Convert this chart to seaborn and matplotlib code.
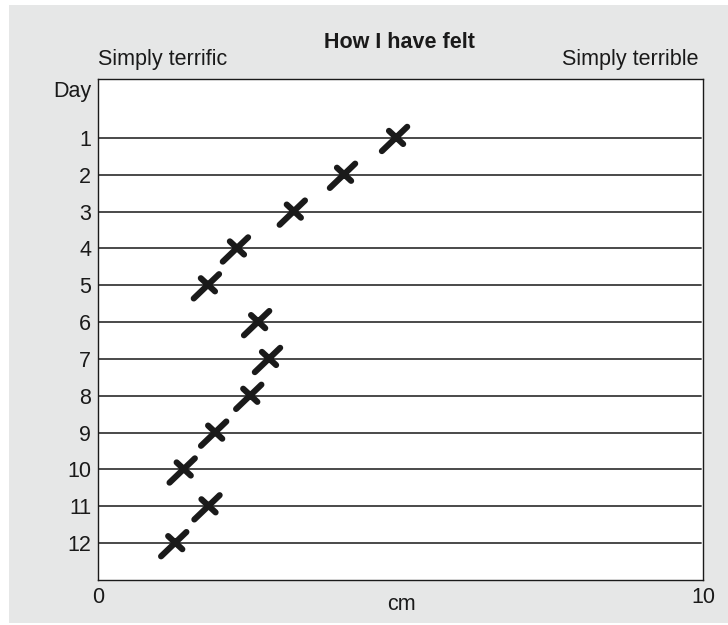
import numpy as np
import pandas as pd
import matplotlib
matplotlib.use("Agg")
import matplotlib.pyplot as plt
from matplotlib.path import Path
from matplotlib.patches import Rectangle
import seaborn as sns

days = [1, 2, 3, 4, 5, 6, 7, 8, 9, 10, 11, 12]
felt_cm = [4.91, 4.05, 3.22, 2.28, 1.80, 2.63, 2.81, 2.50, 1.92, 1.40, 1.81, 1.26]
x_ticks = [0, 10]
title = "How I have felt"
left_label = "Simply terrific"
right_label = "Simply terrible"

sns.set_style("white")
plt.rcParams['font.family'] = ['Liberation Sans', 'DejaVu Sans']

df = pd.DataFrame({"day": days, "cm": felt_cm})

# hand drawn cross: long stroke lower-left -> upper-right, short one across
cross = Path([(-13, -13), (12, 11), (-6, 7), (8, -6)],
             [Path.MOVETO, Path.LINETO, Path.MOVETO, Path.LINETO])

fig = plt.figure(figsize=(7.28, 6.25), dpi=100)
fig.patches.append(Rectangle((9 / 728, 2 / 625), 1, 1 - 7 / 625, transform=fig.transFigure,
                             facecolor="#e6e7e7", edgecolor="none", zorder=-10))
ax = fig.add_axes([98 / 728, 45 / 625, 605 / 728, 501 / 625])
ax.set_facecolor("white")

ax.hlines(days, 0, 9.96, color="#3a3a3a", lw=1.3, zorder=1)

sns.scatterplot(data=df, x="cm", y="day", marker=cross, s=360, facecolor="none",
                edgecolor="#1a1a1a", linewidth=4.4, ax=ax, zorder=3, legend=False)
for coll in ax.collections:
    coll.set_capstyle("round")

ax.set_xlim(0, 10)
ax.set_ylim(13.0, -0.6)
ax.set_yticks(days)
ax.set_yticklabels([str(d) for d in days])
ax.set_xticks(x_ticks)
ax.set_xticklabels([str(t) for t in x_ticks])
ax.tick_params(axis="both", length=0, labelsize=15.5, colors="#1a1a1a")
ax.tick_params(axis="y", pad=5)
ax.tick_params(axis="x", pad=5)
ax.set_xlabel("")
ax.set_ylabel("")
for sp in ax.spines.values():
    sp.set_visible(True)
    sp.set_color("#1a1a1a")
    sp.set_linewidth(1.0)

fig.text(399 / 728, 1 - 42 / 625, title, ha="center", va="center", fontsize=15.5,
         fontweight="bold", color="#1a1a1a")
fig.text(98 / 728, 1 - 60 / 625, left_label, ha="left", va="center", fontsize=15.5, color="#1a1a1a")
fig.text(699 / 728, 1 - 60 / 625, right_label, ha="right", va="center", fontsize=15.5, color="#1a1a1a")
fig.text(91 / 728, 1 - 91 / 625, "Day", ha="right", va="center", fontsize=15.5, color="#1a1a1a")
fig.text(401 / 728, 1 - 605 / 625, "cm", ha="center", va="center", fontsize=15.5, color="#1a1a1a")

fig.savefig("out.png", dpi=100, facecolor="white")
